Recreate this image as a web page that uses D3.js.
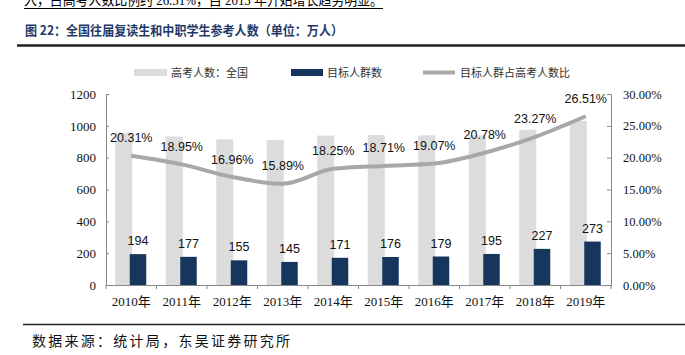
<!DOCTYPE html>
<html><head><meta charset="utf-8">
<script src="https://cdn.jsdelivr.net/npm/d3@7"></script>
<style>body{margin:0;background:#fff}svg{display:block}</style>
</head><body>
<script>
const years = ["2010年","2011年","2012年","2013年","2014年","2015年","2016年","2017年","2018年","2019年"];
const totalExaminees = [957, 933, 915, 912, 939, 942, 940, 940, 975, 1031];
const targetGroup = [194, 177, 155, 145, 171, 176, 179, 195, 227, 273];
const ratio = [20.31, 18.95, 16.96, 15.89, 18.25, 18.71, 19.07, 20.78, 23.27, 26.51];
const leftTicks = [0, 200, 400, 600, 800, 1000, 1200];
const rightTicks = [0, 5, 10, 15, 20, 25, 30];
const legendNames = ["高考人数：全国", "目标人群数", "目标人群占高考人数比"];

const W = 685, H = 355;
const svg = d3.select("body").append("svg").attr("width", W).attr("height", H);
const serif = "'Liberation Serif','Noto Sans CJK SC',serif";
const sans = "'Liberation Sans',Arial,sans-serif";
const cjk = "'Noto Sans CJK SC',sans-serif";

// Top text (cut off at the top edge, as in the reference)
svg.append("text").attr("x", 24).attr("y", 5).attr("font-family", serif).attr("font-size", 15)
  .attr("fill", "#000").attr("textLength", 359).attr("lengthAdjust", "spacingAndGlyphs")
  .text("入，占高考人数比例约 26.51%，自 2013 年开始增长趋势明显。");
svg.append("line").attr("x1", 24).attr("x2", 383).attr("y1", 8.5).attr("y2", 8.5).attr("stroke", "#000").attr("stroke-width", 1);

// Title
svg.append("text").attr("x", 25).attr("y", 35).attr("font-family", cjk).attr("font-size", 13)
  .attr("font-weight", "bold").attr("fill", "#1f3a68")
  .attr("textLength", 318).attr("lengthAdjust", "spacingAndGlyphs")
  .text("图 22：全国往届复读生和中职学生参考人数（单位：万人）");
svg.append("line").attr("x1", 17).attr("x2", 685).attr("y1", 45.5).attr("y2", 45.5).attr("stroke", "#222").attr("stroke-width", 2.5);

// Scales
const x = d3.scaleBand().domain(years).range([106, 611]).padding(0);
const yL = d3.scaleLinear().domain([0, 1200]).range([285, 94]);
const yR = d3.scaleLinear().domain([0, 30]).range([285, 94]);
const cx = d => x(d) + x.bandwidth() / 2;

// Bars
svg.selectAll(".gray").data(years).enter().append("rect")
  .attr("x", d => cx(d) - 16).attr("width", 17)
  .attr("y", (d, i) => yL(totalExaminees[i])).attr("height", (d, i) => yL(0) - yL(totalExaminees[i]))
  .attr("fill", "#dcdcdc");
svg.selectAll(".navy").data(years).enter().append("rect")
  .attr("x", d => cx(d) - 1.5).attr("width", 16.5)
  .attr("y", (d, i) => yL(targetGroup[i])).attr("height", (d, i) => yL(0) - yL(targetGroup[i]))
  .attr("fill", "#17365d");

// Axes
const axisColor = "#888";
const gL = svg.append("g").attr("transform", "translate(106,0)")
  .call(d3.axisLeft(yL).tickValues(leftTicks).tickSize(-3).tickPadding(10).tickFormat(d3.format("d")));
const gR = svg.append("g").attr("transform", "translate(611,0)")
  .call(d3.axisRight(yR).tickValues(rightTicks).tickSize(-4).tickPadding(12).tickFormat(d => d.toFixed(2) + "%"));
const gX = svg.append("g").attr("transform", "translate(0,285)")
  .call(d3.axisBottom(x).tickSize(0).tickPadding(12));
[gL, gR, gX].forEach(g => {
  g.select(".domain").attr("stroke", axisColor);
  g.selectAll(".tick line").attr("stroke", axisColor);
  g.selectAll("text").attr("font-family", serif).attr("font-size", 13).attr("fill", "#111");
});
gR.selectAll("text").attr("font-size", 12.5);
// category boundary ticks on x axis
svg.selectAll(".xt").data(years.concat(["end"])).enter().append("line")
  .attr("x1", (d, i) => i < years.length ? x(d) : x(years[years.length - 1]) + x.bandwidth())
  .attr("x2", (d, i) => i < years.length ? x(d) : x(years[years.length - 1]) + x.bandwidth())
  .attr("y1", 285).attr("y2", 289).attr("stroke", axisColor);

// Line
const line = d3.line().x((d, i) => cx(years[i])).y(d => yR(d)).curve(d3.curveMonotoneX);
svg.append("path").datum(ratio).attr("d", line).attr("fill", "none")
  .attr("stroke", "#a8a8a8").attr("stroke-width", 4);

// Labels
svg.selectAll(".pl").data(ratio).enter().append("text")
  .attr("x", (d, i) => cx(years[i])).attr("y", d => yR(d) - 13.5)
  .attr("text-anchor", "middle").attr("font-family", sans).attr("font-size", 12.5).attr("fill", "#111")
  .text(d => d.toFixed(2) + "%");
svg.selectAll(".cl").data(targetGroup).enter().append("text")
  .attr("x", (d, i) => cx(years[i]) + 6.75).attr("y", d => yL(d) - 9)
  .attr("text-anchor", "middle").attr("font-family", sans).attr("font-size", 12.5).attr("fill", "#111")
  .text(d => d);

// Legend
const lg = svg.append("g").attr("font-family", cjk).attr("font-size", 11).attr("fill", "#333");
lg.append("rect").attr("x", 134).attr("y", 69).attr("width", 33).attr("height", 7).attr("fill", "#dcdcdc");
lg.append("text").attr("x", 171).attr("y", 77).text(legendNames[0]);
lg.append("rect").attr("x", 291).attr("y", 69).attr("width", 32).attr("height", 7).attr("fill", "#17365d");
lg.append("text").attr("x", 327).attr("y", 77).text(legendNames[1]);
lg.append("line").attr("x1", 423).attr("x2", 455).attr("y1", 72.5).attr("y2", 72.5).attr("stroke", "#a8a8a8").attr("stroke-width", 4);
lg.append("text").attr("x", 460).attr("y", 77).text(legendNames[2]);

// Bottom rule and source
svg.append("line").attr("x1", 23).attr("x2", 685).attr("y1", 324.5).attr("y2", 324.5).attr("stroke", "#222").attr("stroke-width", 1.5);
svg.append("text").attr("x", 32).attr("y", 346).attr("font-family", cjk).attr("font-size", 14)
  .attr("fill", "#111").attr("textLength", 258).attr("lengthAdjust", "spacing")
  .text("数据来源：统计局，东吴证券研究所");
</script>
</body></html>
